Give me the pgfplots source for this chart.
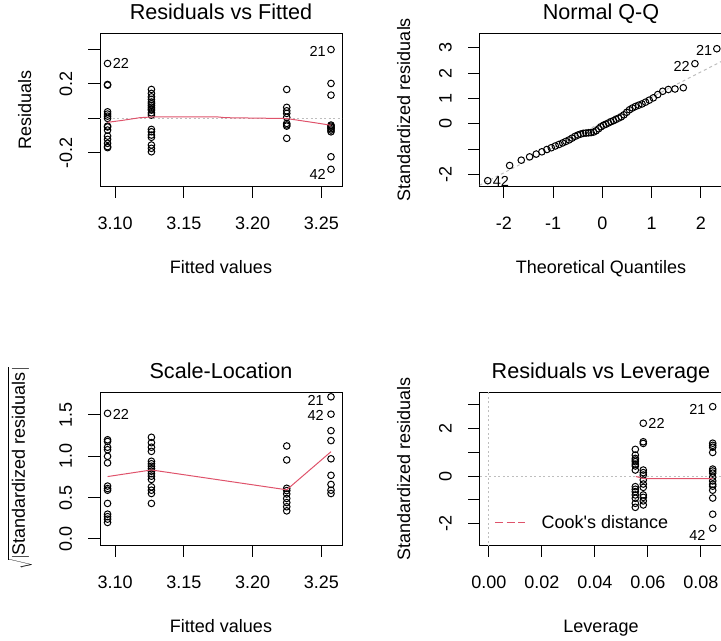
\documentclass[border=0pt]{standalone}
\usepackage{fontspec}
\setmainfont{Liberation Sans}
\usepackage{pgfplots}
\pgfplotsset{compat=1.18}
\definecolor{rred}{HTML}{DF536B}
\definecolor{rgray}{HTML}{BEBEBE}

\pgfplotsset{
  rplot/.style={
    scale only axis,
    clip mode=individual,
    axis line style={line width=1bp, black},
    tick style={line width=1bp, black},
    tick align=outside,
    major tick length=11.5bp,
    xtick pos=left, ytick pos=left,
    minor tick num=0,
    scaled ticks=false,
    tick label style={font=\fontsize{18bp}{20bp}\selectfont},
    xticklabel style={anchor=base},
    yticklabel style={rotate=90, anchor=base},
    xticklabel shift=31.5bp,
    yticklabel shift=16.5bp,
    title style={at={(axis description cs:0.5,1)}, anchor=base, yshift=7.5bp,
      font=\fontsize{21.6bp}{24bp}\selectfont},
    xlabel style={at={(axis description cs:0.5,0)}, anchor=base, yshift=-87bp,
      font=\fontsize{18bp}{20bp}\selectfont},
    ylabel style={anchor=base, font=\fontsize{18bp}{20bp}\selectfont},
  },
  pts/.style={only marks, mark=o, mark size=3.3bp, mark options={line width=1bp, black}},
  refline/.style={rgray, line width=1bp, dash pattern=on 2bp off 2.5bp},
  smooth line/.style={rred, line width=1bp},
}
\tikzset{lab/.style={font=\fontsize{14.5bp}{16bp}\selectfont, inner sep=0pt}}

\begin{document}
\begin{tikzpicture}

% Residuals vs Fitted
\begin{axis}[rplot, at={(100bp,-186bp)}, anchor=south west, width=242bp, height=153bp,
  xmin=3.089, xmax=3.265, ymin=-0.393, ymax=0.496,
  xtick={3.10,3.15,3.20,3.25}, xticklabels={3.10,3.15,3.20,3.25},
  ytick={-0.2,0,0.2,0.4}, yticklabels={-0.2,{},0.2,{}},
  title={Residuals vs Fitted}, xlabel={Fitted values}, ylabel={Residuals},
  ylabel style={at={(axis description cs:-0.2851,0.5)}}]
  \addplot[refline] coordinates {(3.0,0) (3.4,0)};
  \addplot[pts] coordinates {
    (3.0945,0.319) (3.0945,0.197) (3.0945,0.193) (3.0945,0.038) (3.0945,0.025)
    (3.0945,0.013) (3.0945,0.0) (3.0945,-0.045) (3.0945,-0.05) (3.0945,-0.068)
    (3.0945,-0.103) (3.0945,-0.122) (3.0945,-0.145) (3.0945,-0.164) (3.0945,-0.17)
    (3.1264,0.168) (3.1264,0.145) (3.1264,0.125) (3.1264,0.11) (3.1264,0.095)
    (3.1264,0.085) (3.1264,0.075) (3.1264,0.065) (3.1264,0.055) (3.1264,0.048)
    (3.1264,0.032) (3.1264,0.019) (3.1264,-0.064) (3.1264,-0.078) (3.1264,-0.097)
    (3.1264,-0.11) (3.1264,-0.155) (3.1264,-0.174) (3.1264,-0.194)
    (3.2248,0.168) (3.2248,0.064) (3.2248,0.044) (3.2248,0.029) (3.2248,0.006)
    (3.2248,-0.029) (3.2248,-0.038) (3.2248,-0.045) (3.2248,-0.116)
    (3.2570,0.4) (3.2570,0.203) (3.2570,0.135) (3.2570,-0.039) (3.2570,-0.045)
    (3.2570,-0.052) (3.2570,-0.06) (3.2570,-0.068) (3.2570,-0.078) (3.2570,-0.223)
    (3.2570,-0.296)
  };
  \addplot[smooth line] coordinates {
    (3.0945,-0.023) (3.105,-0.012) (3.118,0.004) (3.1264,0.008) (3.175,0.008)
    (3.18,0.004) (3.2248,-0.001) (3.245,-0.025) (3.257,-0.04)
  };
  \node[lab, anchor=west, xshift=5bp] at (axis cs:3.0945,0.319) {22};
  \node[lab, anchor=east, xshift=-5bp, yshift=-1.5bp] at (axis cs:3.2570,0.4) {21};
  \node[lab, anchor=east, xshift=-5bp, yshift=-5bp] at (axis cs:3.2570,-0.296) {42};
\end{axis}

% Normal Q-Q
\begin{axis}[rplot, at={(479.5bp,-186bp)}, anchor=south west, width=243bp, height=153bp,
  xmin=-2.493, xmax=2.441, ymin=-2.46, ymax=3.58,
  xtick={-2,-1,0,1,2}, xticklabels={-2,-1,0,1,2},
  ytick={-2,-1,0,1,2,3}, yticklabels={-2,{},0,1,2,3},
  title={Normal Q-Q}, xlabel={Theoretical Quantiles}, ylabel={Standardized residuals},
  ylabel style={at={(axis description cs:-0.286,0.5)}}]
  \addplot[rgray, line width=1bp, dash pattern=on 3bp off 3bp] coordinates {(-2.6,-2.537) (2.6,2.637)};
  \addplot[pts] coordinates {
    (-2.326,-2.25) (-1.881,-1.65) (-1.645,-1.44) (-1.476,-1.31) (-1.341,-1.20)
    (-1.227,-1.11) (-1.126,-1.02) (-1.036,-0.95) (-0.954,-0.88) (-0.878,-0.82)
    (-0.806,-0.76) (-0.739,-0.70) (-0.674,-0.64) (-0.613,-0.57) (-0.553,-0.50)
    (-0.496,-0.45) (-0.440,-0.41) (-0.385,-0.38) (-0.332,-0.37) (-0.279,-0.36)
    (-0.228,-0.35) (-0.176,-0.33) (-0.126,-0.28) (-0.075,-0.20) (-0.025,-0.12)
    (0.025,-0.06) (0.075,-0.02) (0.126,0.03) (0.176,0.08) (0.228,0.12)
    (0.279,0.17) (0.332,0.22) (0.385,0.27) (0.440,0.35) (0.496,0.45)
    (0.553,0.55) (0.613,0.62) (0.674,0.68) (0.739,0.73) (0.806,0.78)
    (0.878,0.85) (0.954,0.93) (1.036,1.02) (1.126,1.15) (1.227,1.28)
    (1.341,1.35) (1.476,1.37) (1.645,1.42) (1.881,2.37) (2.326,2.96)
  };
  \node[lab, anchor=west, xshift=5bp, yshift=-1bp] at (axis cs:-2.326,-2.25) {42};
  \node[lab, anchor=east, xshift=-5bp, yshift=-3bp] at (axis cs:1.881,2.37) {22};
  \node[lab, anchor=east, xshift=-4.5bp, yshift=-2bp] at (axis cs:2.326,2.96) {21};
\end{axis}

% Scale-Location
\begin{axis}[rplot, at={(100bp,-545bp)}, anchor=south west, width=242bp, height=153bp,
  xmin=3.089, xmax=3.265, ymin=-0.073, ymax=1.778,
  xtick={3.10,3.15,3.20,3.25}, xticklabels={3.10,3.15,3.20,3.25},
  ytick={0,0.5,1,1.5}, yticklabels={0.0,0.5,1.0,1.5},
  title={Scale-Location}, xlabel={Fitted values},
  ylabel={$\sqrt{|\mbox{Standardized residuals}|}$},
  ylabel style={at={(axis description cs:-0.31,0.5)}}]
  \addplot[pts] coordinates {
    (3.0945,1.52) (3.0945,1.20) (3.0945,1.18) (3.0945,1.11) (3.0945,1.08)
    (3.0945,1.0) (3.0945,0.92) (3.0945,0.64) (3.0945,0.61) (3.0945,0.59)
    (3.0945,0.43) (3.0945,0.30) (3.0945,0.27) (3.0945,0.24) (3.0945,0.20)
    (3.1264,1.23) (3.1264,1.165) (3.1264,1.11) (3.1264,1.06) (3.1264,0.94)
    (3.1264,0.91) (3.1264,0.88) (3.1264,0.85) (3.1264,0.82) (3.1264,0.79)
    (3.1264,0.76) (3.1264,0.72) (3.1264,0.63) (3.1264,0.59) (3.1264,0.55)
    (3.1264,0.43)
    (3.2248,1.125) (3.2248,0.956) (3.2248,0.613) (3.2248,0.585) (3.2248,0.545)
    (3.2248,0.49) (3.2248,0.44) (3.2248,0.39) (3.2248,0.34)
    (3.2570,1.72) (3.2570,1.51) (3.2570,1.31) (3.2570,1.19) (3.2570,0.97)
    (3.2570,0.77) (3.2570,0.66) (3.2570,0.59) (3.2570,0.55)
  };
  \addplot[smooth line] coordinates {(3.0945,0.755) (3.1264,0.835) (3.2248,0.595) (3.2570,1.056)};
  \node[lab, anchor=west, xshift=5bp, yshift=-1bp] at (axis cs:3.0945,1.52) {22};
  \node[lab, anchor=east, xshift=-7bp, yshift=-4bp] at (axis cs:3.2570,1.72) {21};
  \node[lab, anchor=east, xshift=-7bp, yshift=-1bp] at (axis cs:3.2570,1.51) {42};
\end{axis}

% Residuals vs Leverage
\begin{axis}[rplot, at={(479.5bp,-545bp)}, anchor=south west, width=243bp, height=153bp,
  xmin=-0.00351, xmax=0.0882, ymin=-2.897, ymax=3.545,
  xtick={0,0.02,0.04,0.06,0.08}, xticklabels={0.00,0.02,0.04,0.06,0.08},
  ytick={-2,-1,0,1,2,3}, yticklabels={-2,{},0,{},2,{}},
  title={Residuals vs Leverage}, xlabel={Leverage}, ylabel={Standardized residuals},
  ylabel style={at={(axis description cs:-0.286,0.5)}},
  legend style={draw=none, fill=none, at={(axis description cs:0,0)}, anchor=south west,
    xshift=12bp, yshift=11bp, font=\fontsize{18bp}{20bp}\selectfont,
    /tikz/every odd column/.append style={column sep=14bp}},
  legend image code/.code={\draw[rred, line width=1bp, dash pattern=on 8bp off 3.5bp] (0bp,0bp) -- (30bp,0bp);}]
  \addplot[refline, forget plot] coordinates {(-0.01,0) (0.1,0)};
  \addplot[refline, forget plot] coordinates {(0,-3) (0,4)};
  \addlegendimage{rred}
  \addlegendentry{Cook\textquotesingle s distance}
  \addplot[pts, forget plot] coordinates {
    (0.0553,1.13) (0.0553,0.89) (0.0553,0.75) (0.0553,0.68) (0.0553,0.61)
    (0.0553,0.51) (0.0553,0.43) (0.0553,0.26) (0.0553,-0.44) (0.0553,-0.55)
    (0.0553,-0.65) (0.0553,-0.79) (0.0553,-0.93) (0.0553,-1.14) (0.0553,-1.31)
    (0.0583,2.23) (0.0583,1.45) (0.0583,1.38) (0.0583,0.26) (0.0583,0.15)
    (0.0583,0.05) (0.0583,-0.16) (0.0583,-0.33) (0.0583,-0.47) (0.0583,-0.79)
    (0.0583,-0.89) (0.0583,-1.04) (0.0583,-1.21)
    (0.0845,2.93) (0.0845,1.39) (0.0845,1.30) (0.0845,1.22) (0.0845,1.0)
    (0.0845,0.3) (0.0845,0.22) (0.0845,0.13) (0.0845,-0.04) (0.0845,-0.2)
    (0.0845,-0.34) (0.0845,-0.42) (0.0845,-0.59) (0.0845,-0.92) (0.0845,-1.6)
    (0.0845,-2.19)
  };
  \addplot[smooth line, forget plot] coordinates {(0.0555,-0.01) (0.0583,-0.1) (0.0845,-0.1)};
  \node[lab, anchor=west, xshift=5bp] at (axis cs:0.0583,2.23) {22};
  \node[lab, anchor=east, xshift=-7bp, yshift=-3bp] at (axis cs:0.0845,2.93) {21};
  \node[lab, anchor=east, xshift=-7bp, yshift=-7bp] at (axis cs:0.0845,-2.19) {42};
\end{axis}

\pgfresetboundingbox
\path[use as bounding box] (0bp,-641bp) rectangle (721bp,0bp);
\end{tikzpicture}
\end{document}
